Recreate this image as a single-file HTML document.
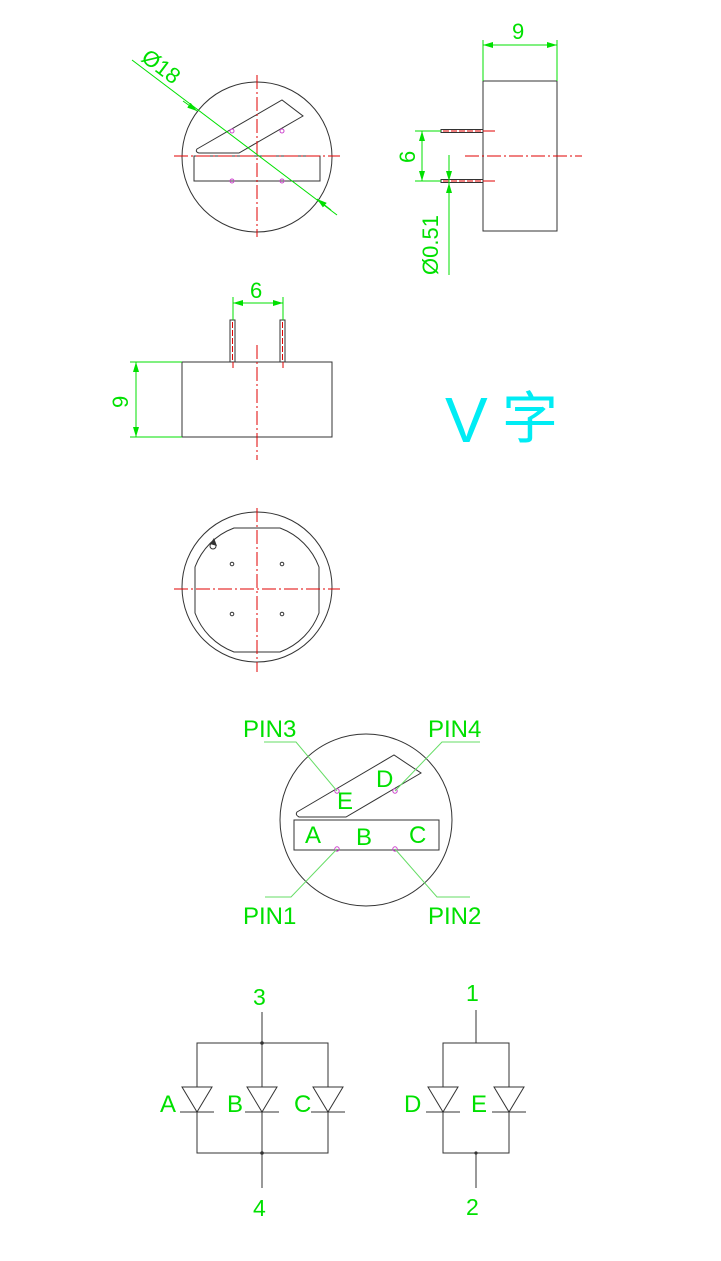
<!DOCTYPE html>
<html><head><meta charset="utf-8"><style>html,body{margin:0;padding:0;background:#fff}svg{display:block}</style></head><body>
<svg width="721" height="1261" viewBox="0 0 721 1261" xmlns="http://www.w3.org/2000/svg" font-family="Liberation Sans, sans-serif">
<defs>
<marker id="ar" viewBox="0 0 10 6" refX="10" refY="3" markerWidth="10" markerHeight="6" orient="auto-start-reverse" markerUnits="userSpaceOnUse"><path d="M0,0 L10,3 L0,6z" fill="#00e000"/></marker>
</defs>
<g fill="none" stroke="#333" stroke-width="1">
<circle cx="257" cy="157" r="75"/>
<rect x="194" y="156" width="126" height="25"/>
<path d="M197,149 L282,100 L303,116 L239,153 L199,153 Q195,152 197,149z"/>
<rect x="483" y="81" width="74" height="150"/>
<rect x="441" y="129.5" width="42" height="3"/>
<rect x="441" y="179.5" width="42" height="3"/>
<rect x="182" y="362" width="150" height="75"/>
<rect x="230" y="320" width="5" height="42"/>
<rect x="280" y="320" width="5" height="42"/>
<circle cx="257" cy="587" r="75"/>
<path d="M234,528 L280,528 A66,66 0 0 1 319,567 L319,613 A66,66 0 0 1 280,652 L234,652 A66,66 0 0 1 195,613 L195,567 A66,66 0 0 1 234,528z"/>
<circle cx="232" cy="564" r="1.8"/><circle cx="282" cy="564" r="1.8"/>
<circle cx="232" cy="614" r="1.8"/><circle cx="282" cy="614" r="1.8"/>
<circle cx="366" cy="820" r="86"/>
<rect x="294" y="820" width="145" height="30"/>
<path d="M297,812 L394,755 L421,773 L346,817 L299,817 Q295,815 297,812z"/>
<path d="M262,1012 V1043 M197,1087 V1043 H328 V1087 M262,1043 V1087 M197,1112 V1153 H328 V1112 M262,1112 V1188"/>
<path d="M476,1010 V1043 M443,1087 V1043 H509 V1087 M443,1112 V1153 H509 V1112 M476,1153 V1188"/>
<path d="M182,1087 H212 L197,1112z M180,1112 H214"/>
<path d="M247,1087 H277 L262,1112z M245,1112 H279"/>
<path d="M313,1087 H343 L328,1112z M311,1112 H345"/>
<path d="M428,1087 H458 L443,1112z M426,1112 H460"/>
<path d="M494,1087 H524 L509,1112z M492,1112 H526"/>
</g>
<g fill="#333"><circle cx="262" cy="1043" r="1.8"/><circle cx="262" cy="1153" r="1.8"/><circle cx="476" cy="1153" r="1.6"/>
<path d="M210,544 L214,538 L217,546z"/></g>
<circle cx="213" cy="546" r="3" fill="none" stroke="#333"/>
<g stroke="#e00000" stroke-width="1" fill="none" stroke-dasharray="14,3,2,3">
<path d="M174,156 H340 M257,75 V237"/>
<path d="M465,156 H582"/>
<path d="M257,345 V460"/>
<path d="M174,589 H340 M257,508 V672"/>
</g>
<g stroke="#e00000" stroke-width="1"><path d="M483,131 H495 M483,181 H495 M233,308 V320 M283,308 V320 M233,362 V368 M283,362 V368"/></g>
<g stroke="#e00000" stroke-width="1" stroke-dasharray="6,2"><path d="M443,131 H481 M443,181 H481 M232.5,322 V360 M282.5,322 V360"/></g>
<g fill="none" stroke="#cc44cc" stroke-width="1">
<circle cx="232" cy="131" r="2"/><circle cx="282" cy="131" r="2"/><circle cx="232" cy="181" r="2"/><circle cx="282" cy="181" r="2"/>
<circle cx="337" cy="791" r="2.2"/><circle cx="395" cy="791" r="2.2"/><circle cx="337" cy="849" r="2.2"/><circle cx="395" cy="849" r="2.2"/>
</g>
<g stroke="#00e000" stroke-width="1" fill="none">
<path d="M132,60 L337,215"/>
<path d="M183,101 L197,111" marker-end="url(#ar)"/>
<path d="M331,210 L317,199" marker-end="url(#ar)"/>
<path d="M483,40 V81 M557,40 V81"/>
<path d="M483,45 H557" marker-start="url(#ar)" marker-end="url(#ar)"/>
<path d="M415,131 H441 M415,181 H441"/>
<path d="M422,131 V181" marker-start="url(#ar)" marker-end="url(#ar)"/>
<path d="M449,155 V275"/>
<path d="M449,165 V181" marker-end="url(#ar)"/>
<path d="M449,197 V183" marker-end="url(#ar)"/>
<path d="M233,297 V320 M283,297 V320"/>
<path d="M233,303 H283" marker-start="url(#ar)" marker-end="url(#ar)"/>
<path d="M130,362 H182 M130,437 H182"/>
<path d="M136,362 V437" marker-start="url(#ar)" marker-end="url(#ar)"/>
</g>
<g stroke="#66dd66" stroke-width="1" fill="none">
<path d="M264,742 H296 L337,791 M480,742 H442 L395,791 M337,849 L291,897 H265 M395,849 L437,897 H470"/>
</g>
<g fill="#00e000" font-size="23">
<text x="0" y="0" transform="translate(140,60) rotate(37)" font-size="22">Ø18</text>
<text x="512" y="39" font-size="22">9</text>
<text x="0" y="0" transform="translate(415,163) rotate(-90)" font-size="22">6</text>
<text x="0" y="0" transform="translate(438,275) rotate(-90)" font-size="22">Ø0.51</text>
<text x="250" y="298" font-size="22">6</text>
<text x="0" y="0" transform="translate(128,408) rotate(-90)" font-size="22">9</text>
<text x="243" y="737" font-size="24">PIN3</text>
<text x="428" y="737" font-size="24">PIN4</text>
<text x="243" y="924" font-size="24">PIN1</text>
<text x="428" y="924" font-size="24">PIN2</text>
<text x="376" y="787" font-size="24">D</text>
<text x="337" y="809" font-size="24">E</text>
<text x="305" y="843" font-size="24">A</text>
<text x="356" y="845" font-size="24">B</text>
<text x="409" y="843" font-size="24">C</text>
<text x="253" y="1005">3</text>
<text x="253" y="1216">4</text>
<text x="466" y="1001">1</text>
<text x="466" y="1215">2</text>
<text x="160" y="1112" font-size="24">A</text>
<text x="227" y="1112" font-size="24">B</text>
<text x="294" y="1112" font-size="24">C</text>
<text x="404" y="1112" font-size="24">D</text>
<text x="471" y="1112" font-size="24">E</text>
</g>
<text x="445" y="442" fill="#00ecf4" font-size="64" font-family="Liberation Sans, sans-serif">V</text>
<text x="502" y="438" fill="#00ecf4" font-size="56" font-family="Liberation Sans, 'Noto Sans CJK SC', sans-serif">字</text>
</svg>
</body></html>
